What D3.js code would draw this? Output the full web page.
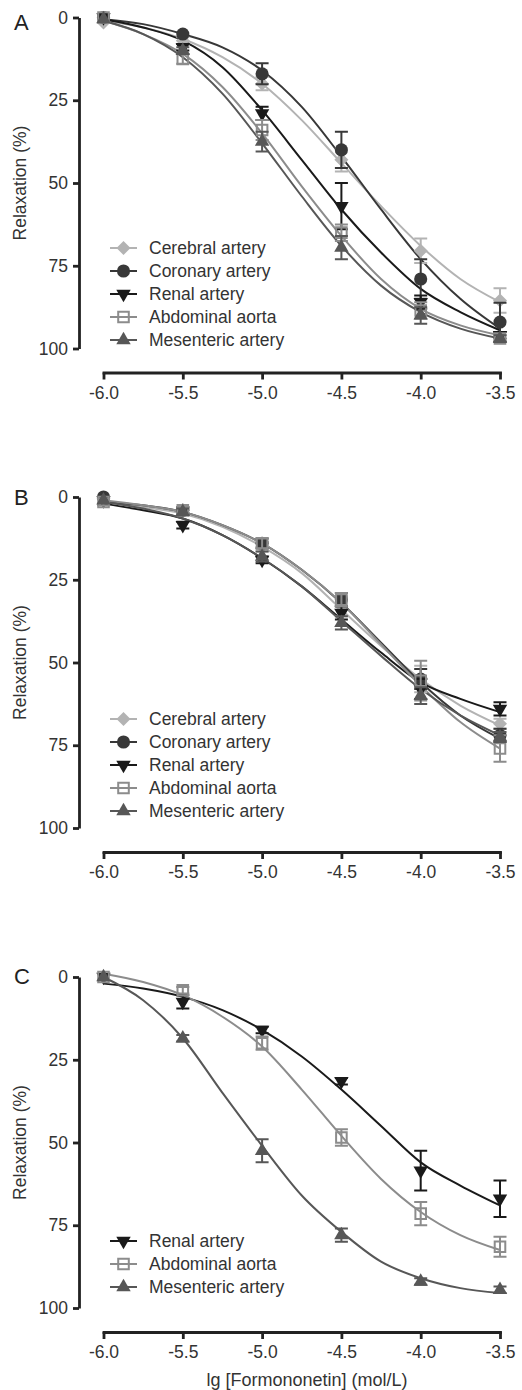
<!DOCTYPE html>
<html>
<head>
<meta charset="utf-8">
<script src="https://cdn.jsdelivr.net/npm/d3@7"></script>
<style>
body { margin: 0; background: #fff; }
svg text { font-family: "Liberation Sans", Arial, sans-serif; }
</style>
</head>
<body>
<svg id="chart" width="522" height="1390"></svg>
<script>
var doses = [-6, -5.5, -5, -4.5, -4, -3.5];
var fitDoses = [-6, -5.75, -5.5, -5.25, -5, -4.75, -4.5, -4.25, -4, -3.75, -3.5];
var xTicks = [-6, -5.5, -5, -4.5, -4, -3.5];
var yTicks = [0, 25, 50, 75, 100];

// panel A
var cerebralA = [1.5, 7, 20, 43, 70.5, 85.5];
var cerebralA_sem = [0.5, 1, 2, 3.5, 3.7, 3.7];
var cerebralA_fit = [1, 3, 6.5, 12, 20, 31, 44, 57, 69, 79, 86];
var coronaryA = [0, 5, 17, 40, 79, 92];
var coronaryA_sem = [0, 0.5, 3.2, 5.5, 6, 5.8];
var coronaryA_fit = [0.5, 2, 5, 9, 16, 27, 42, 58, 73, 85, 94];
var renalA = [0, 9, 29, 57, 86, 96];
var renalA_sem = [0, 1, 2, 7, 2, 1];
var renalA_fit = [0.5, 3, 7, 15, 28, 43, 58, 71, 82, 89, 94.5];
var aortaA = [0, 12.5, 34, 65, 88.5, 97];
var aortaA_sem = [0, 1.5, 3, 2.5, 2.5, 1];
var aortaA_fit = [1, 5, 11, 21, 35, 51, 66, 79, 88, 93, 96];
var mesentericA = [0.5, 10, 37.5, 69.5, 90, 97];
var mesentericA_sem = [0, 1, 3, 3.5, 2.5, 1];
var mesentericA_fit = [1, 5, 12, 23, 38, 54, 69, 81, 89, 94, 97];

// panel B
var cerebralB = [0.5, 4, 15, 33, 55, 68.5];
var cerebralB_sem = [0, 1, 1.5, 3, 4, 1.5];
var cerebralB_fit = [1.5, 3, 5, 9, 15, 23, 34, 45, 55, 63, 69];
var coronaryB = [0, 4, 14, 31, 55, 72];
var coronaryB_sem = [0, 1, 1.5, 2, 3, 2];
var coronaryB_fit = [1.5, 2.5, 4.5, 8.5, 14, 22, 32, 44, 56, 66, 73];
var renalB = [1, 8.5, 19, 35, 58, 64];
var renalB_sem = [0, 1, 1, 2, 3, 2];
var renalB_fit = [2, 4, 6.5, 11.5, 18.5, 27, 37, 47, 56, 61, 65];
var aortaB = [1.5, 4, 14, 31, 55.5, 76];
var aortaB_sem = [1, 1, 1.5, 2, 6, 4];
var aortaB_fit = [1, 2.5, 4.5, 8.5, 14, 22, 32, 44.5, 57, 68, 76];
var mesentericB = [1, 4.5, 18, 38, 60, 72.5];
var mesentericB_sem = [0, 1, 1.5, 2, 2.5, 1.5];
var mesentericB_fit = [1.5, 3.5, 6.5, 11.5, 18.5, 27, 37.5, 48, 58, 66, 72];

// panel C
var renalC = [0, 7.5, 16, 31.5, 58.5, 67];
var renalC_sem = [0.5, 2, 1, 1, 6, 5.5];
var renalC_fit = [2, 3.5, 6, 10, 16, 24, 34, 45, 56, 63, 69];
var aortaC = [0, 4, 20, 48.5, 71.5, 81.5];
var aortaC_sem = [0.5, 1, 2, 2.5, 3.5, 3];
var aortaC_fit = [-1, 1.5, 5.5, 12, 21, 34, 48, 61, 71, 78, 82.5];
var mesentericC = [0, 18.5, 52.5, 78, 92, 94.5];
var mesentericC_sem = [0.5, 1, 3.5, 2, 1, 1];
var mesentericC_fit = [0, 7, 18.5, 35, 51, 66, 77, 86, 91, 94, 95.5];

var looks = {
    'Cerebral artery':   { color: '#b3b3b3', shape: 'diamond' },
    'Coronary artery':   { color: '#383838', shape: 'circle' },
    'Renal artery':      { color: '#1a1a1a', shape: 'down' },
    'Abdominal aorta':   { color: '#8c8c8c', shape: 'square' },
    'Mesenteric artery': { color: '#575757', shape: 'up' }
};

function mk(name, mean, sem, fit) {
    return { name: name, mean: mean, sem: sem, fit: fit };
}

var panelA = [
    mk('Cerebral artery', cerebralA, cerebralA_sem, cerebralA_fit),
    mk('Coronary artery', coronaryA, coronaryA_sem, coronaryA_fit),
    mk('Renal artery', renalA, renalA_sem, renalA_fit),
    mk('Abdominal aorta', aortaA, aortaA_sem, aortaA_fit),
    mk('Mesenteric artery', mesentericA, mesentericA_sem, mesentericA_fit)
];
var panelB = [
    mk('Cerebral artery', cerebralB, cerebralB_sem, cerebralB_fit),
    mk('Coronary artery', coronaryB, coronaryB_sem, coronaryB_fit),
    mk('Renal artery', renalB, renalB_sem, renalB_fit),
    mk('Abdominal aorta', aortaB, aortaB_sem, aortaB_fit),
    mk('Mesenteric artery', mesentericB, mesentericB_sem, mesentericB_fit)
];
var panelC = [
    mk('Renal artery', renalC, renalC_sem, renalC_fit),
    mk('Abdominal aorta', aortaC, aortaC_sem, aortaC_fit),
    mk('Mesenteric artery', mesentericC, mesentericC_sem, mesentericC_fit)
];

var svg = d3.select('#chart');
svg.append('rect').attr('width', 522).attr('height', 1390).attr('fill', '#fff');

var x = d3.scaleLinear().domain([-6, -3.5]).range([103.5, 500]);
var axisX = 79;
var plotH = 331;

function drawSymbol(g, shape, color, cx, cy) {
    var p;
    if (shape === 'circle') {
        p = g.append('path').attr('d', d3.symbol().type(d3.symbolCircle).size(135)())
            .attr('fill', color);
        p.attr('transform', 'translate(' + cx + ',' + cy + ')');
    } else if (shape === 'square') {
        p = g.append('path').attr('d', d3.symbol().type(d3.symbolSquare).size(112)())
            .attr('fill', 'none').attr('stroke', color).attr('stroke-width', 2);
        p.attr('transform', 'translate(' + cx + ',' + cy + ')');
    } else if (shape === 'diamond') {
        p = g.append('path').attr('d', d3.symbol().type(d3.symbolSquare).size(98)())
            .attr('fill', color);
        p.attr('transform', 'translate(' + cx + ',' + cy + ') rotate(45)');
    } else if (shape === 'up') {
        p = g.append('path').attr('d', d3.symbol().type(d3.symbolTriangle).size(90)())
            .attr('fill', color);
        p.attr('transform', 'translate(' + cx + ',' + cy + ')');
    } else {
        p = g.append('path').attr('d', d3.symbol().type(d3.symbolTriangle).size(90)())
            .attr('fill', color);
        p.attr('transform', 'translate(' + cx + ',' + cy + ') rotate(180)');
    }
}

function drawPanel(letter, top, series, legendTop, letterY) {
    var y = d3.scaleLinear().domain([0, 100]).range([top, top + plotH]);
    var g = svg.append('g');

    // y axis
    var ya = g.append('g')
        .attr('transform', 'translate(' + axisX + ',0)')
        .attr('color', '#222')
        .call(d3.axisLeft(y).tickValues(yTicks).tickSize(6).tickSizeOuter(0).tickPadding(5));
    ya.select('.domain').attr('stroke-width', 2.8);
    ya.selectAll('.tick line').attr('stroke-width', 2.8);
    ya.selectAll('text').attr('font-size', 17.5).attr('fill', '#333')
        .attr('font-family', '"Liberation Sans", Arial, sans-serif');

    // x axis, set apart below the plot
    var xBase = top + plotH + 24;
    var xa = g.append('g')
        .attr('transform', 'translate(0,' + xBase + ')')
        .attr('color', '#222')
        .call(d3.axisBottom(x).tickValues(xTicks).tickSize(7).tickSizeOuter(0).tickPadding(7)
            .tickFormat(function (d) { return d.toFixed(1); }));
    xa.select('.domain').attr('stroke-width', 2.8).attr('stroke-linecap', 'square');
    xa.selectAll('.tick line').attr('stroke-width', 2.8);
    xa.selectAll('text').attr('font-size', 17.5).attr('fill', '#333')
        .attr('font-family', '"Liberation Sans", Arial, sans-serif');

    g.append('text')
        .attr('transform', 'translate(20,' + (top + plotH / 2) + ') rotate(-90)')
        .attr('text-anchor', 'middle')
        .attr('dy', '0.35em')
        .attr('font-size', 17.5)
        .attr('fill', '#333')
        .text('Relaxation (%)');

    g.append('text')
        .attr('x', 14)
        .attr('y', letterY)
        .attr('dy', '0.36em')
        .attr('font-size', 22)
        .attr('fill', '#222')
        .text(letter);

    var line = d3.line()
        .x(function (d) { return x(d[0]); })
        .y(function (d) { return y(d[1]); })
        .curve(d3.curveMonotoneX);

    series.forEach(function (s) {
        g.append('path')
            .attr('d', line(d3.zip(fitDoses, s.fit)))
            .attr('fill', 'none')
            .attr('stroke', looks[s.name].color)
            .attr('stroke-width', 2);
    });

    series.forEach(function (s) {
        var c = looks[s.name].color;
        doses.forEach(function (dx, i) {
            var e = s.sem[i];
            if (e > 0.8) {
                var px = x(dx);
                g.append('path')
                    .attr('d', 'M' + px + ',' + y(s.mean[i] - e) + 'V' + y(s.mean[i] + e) +
                        'M' + (px - 6.5) + ',' + y(s.mean[i] - e) + 'H' + (px + 6.5) +
                        'M' + (px - 6.5) + ',' + y(s.mean[i] + e) + 'H' + (px + 6.5))
                    .attr('fill', 'none')
                    .attr('stroke', c)
                    .attr('stroke-width', 2);
            }
        });
        doses.forEach(function (dx, i) {
            drawSymbol(g, looks[s.name].shape, c, x(dx), y(s.mean[i]));
        });
    });

    // legend
    series.forEach(function (s, i) {
        var ly = legendTop + i * 23;
        var c = looks[s.name].color;
        g.append('line')
            .attr('x1', 110).attr('x2', 137)
            .attr('y1', ly).attr('y2', ly)
            .attr('stroke', c).attr('stroke-width', 2);
        drawSymbol(g, looks[s.name].shape, c, 123.5, ly);
        g.append('text')
            .attr('x', 149)
            .attr('y', ly)
            .attr('dy', '0.35em')
            .attr('font-size', 17.5)
            .attr('fill', '#333')
            .text(s.name);
    });
    return xBase;
}

drawPanel('A', 17.5, panelA, 248, 22);
drawPanel('B', 497, panelB, 719, 497);
drawPanel('C', 977, panelC, 1241, 976);

svg.append('text')
    .attr('x', 307)
    .attr('y', 1380)
    .attr('dy', '0.35em')
    .attr('text-anchor', 'middle')
    .attr('font-size', 18)
    .attr('fill', '#333')
    .text('lg [Formononetin] (mol/L)');
</script>
</body>
</html>
